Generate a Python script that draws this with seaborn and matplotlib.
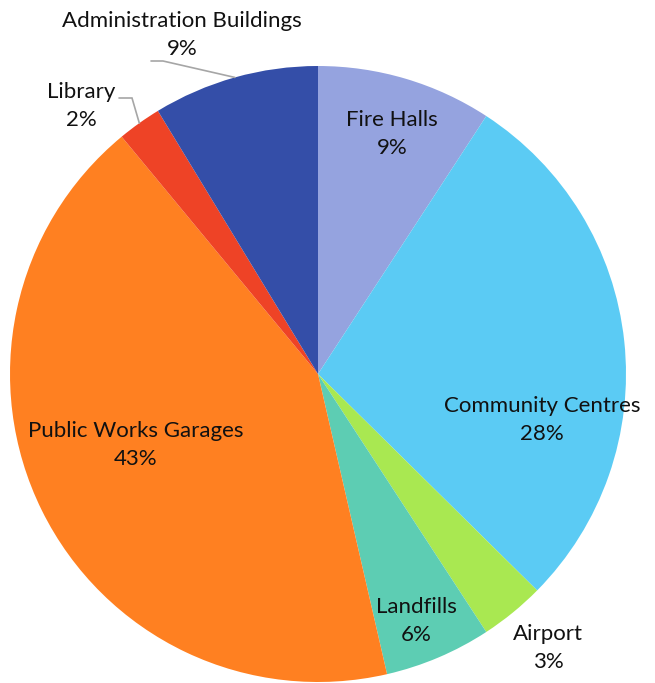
import numpy as np
import seaborn as sns
import matplotlib.pyplot as plt

# Facility share of total (clockwise from 12 o'clock)
categories = ['Fire Halls', 'Community Centres', 'Airport', 'Landfills',
              'Public Works Garages', 'Library', 'Administration Buildings']
shares = [9.2, 28.2, 3.4, 5.6, 42.6, 2.3, 8.7]
colors = ['#95A3DF', '#5BCBF4', '#A9E851', '#5DCDB3', '#FF8021', '#EE4326', '#344EA8']

# label centres in pixel space (x from left, y from top)
label_pos = [(392, 134), (542, 420), (548, 648), (416, 621),
             (136, 445), (81, 106), (182, 35)]
# leader lines: (start, elbow) for the outside labels
leaders = {5: [(119, 98), (132, 98)], 6: [(151, 61), (163, 61)]}

W, H = 655, 683
cx, cy, R = 318, 374, 308

sns.set_theme(style='white')
plt.rcParams['font.family'] = ['Lato', 'DejaVu Sans']

fig = plt.figure(figsize=(W / 100, H / 100), dpi=100)
ax = fig.add_axes([0, 0, 1, 1])

wedges, _ = ax.pie(shares, colors=colors, startangle=90, counterclock=False,
                   center=(cx, H - cy), radius=R,
                   wedgeprops=dict(linewidth=0))
ax.set_xlim(0, W)
ax.set_ylim(0, H)
ax.set_aspect('equal')
ax.axis('off')

total = sum(shares)
cum = np.cumsum([0] + shares)
for i, (name, val) in enumerate(zip(categories, shares)):
    x, y = label_pos[i]
    ax.text(x, H - y, f'{name}\n{val / total * 100:.0f}%', ha='center', va='center',
            fontsize=16, color='#111111', linespacing=1.55)
    if i in leaders:
        mid = (cum[i] + cum[i + 1]) / 2 / total * 360
        ang = np.deg2rad(90 - mid)
        ex, ey = cx + R * np.cos(ang), (H - cy) + R * np.sin(ang)
        (sx, sy), (bx, by) = leaders[i]
        ax.plot([sx, bx, ex], [H - sy, H - by, ey], color='#A6A6A6', lw=1.2,
                solid_joinstyle='miter')

fig.savefig('out.png', dpi=100)
